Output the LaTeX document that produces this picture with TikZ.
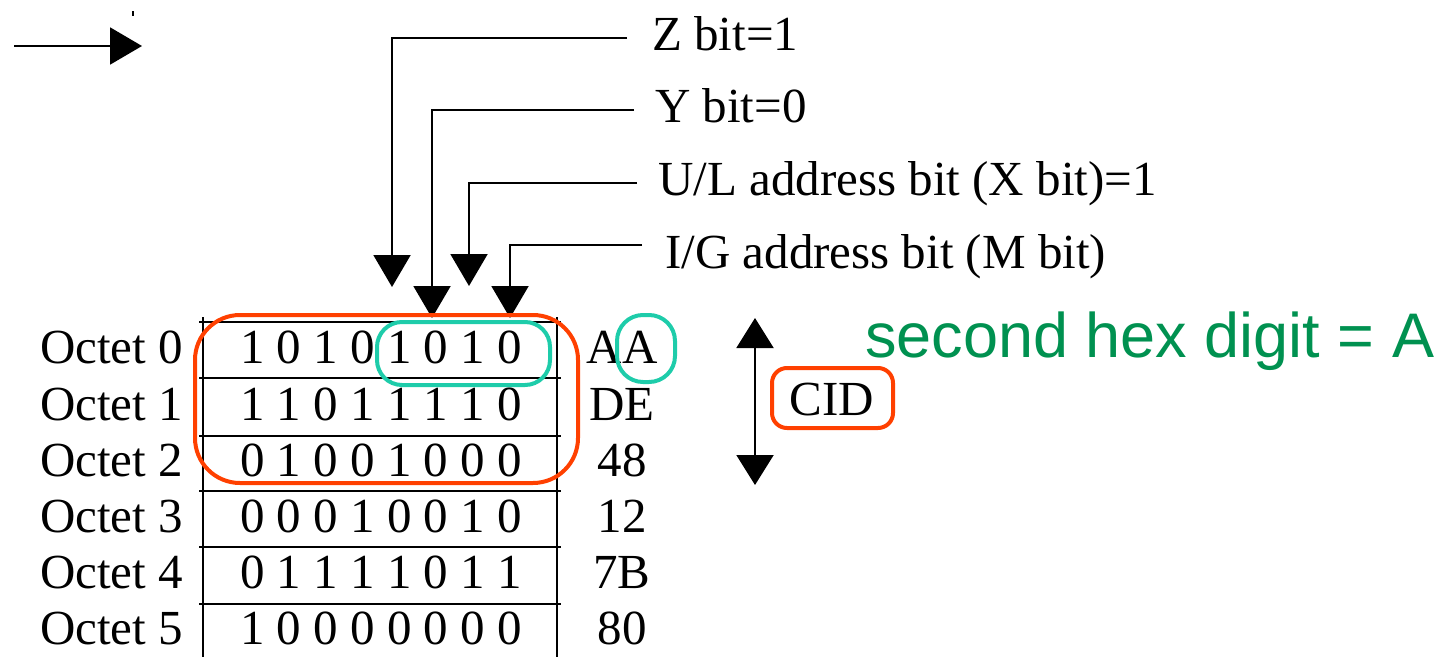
\documentclass[tikz,border=0pt]{standalone}
\usepackage{fontspec}
\setmainfont{Liberation Serif}
\newfontfamily\greenfont{Liberation Sans}
\usetikzlibrary{arrows.meta}
\definecolor{hlred}{RGB}{255,64,0}
\definecolor{hlteal}{RGB}{30,204,170}
\definecolor{hlgreen}{RGB}{0,145,80}
\begin{document}
\begin{tikzpicture}[x=1pt,y=-1pt,
  txt/.style={inner sep=0pt,font=\fontsize{49}{55}\selectfont},
  lbl/.style={txt,anchor=base west},
  hexv/.style={txt,anchor=base},
  wire/.style={line width=2pt},
  tri/.style={-{Triangle[width=37pt,length=32pt]}},
  tabline/.style={line width=1.8pt},
  redbox/.style={draw=hlred,line width=4pt},
  tealbox/.style={draw=hlteal,line width=4pt}]
\useasboundingbox (0,0) rectangle (1439,656);
% top-left arrow
\coordinate (ls) at (14,46);
\coordinate (le) at (142,46);
\draw[wire,tri] (ls) -- (le);
\draw[line width=1.5pt] (133,11) -- (133,16);
% table
\foreach \y in {322,378,436,491,547,604}{
  \draw[tabline] (199,\y) -- (561,\y);
}
\draw[tabline] (203,317) -- (203,660);
\draw[tabline] (557,317) -- (557,660);
% octet labels, bits, hex
\foreach \i/\b/\bits/\hx in {0/363/{1 0 1 0 1 0 1 0}/AA,1/420/{1 1 0 1 1 1 1 0}/DE,2/476/{0 1 0 0 1 0 0 0}/48,3/532/{0 0 0 1 0 0 1 0}/12,4/588/{0 1 1 1 1 0 1 1}/7B,5/644/{1 0 0 0 0 0 0 0}/80}{
  \node[lbl] (oct\i) at (40,\b) {Octet \i};
  \node[lbl] (bits\i) at (240,\b) {\bits};
  \node[hexv] (hex\i) at (622,\b) {\hx};
}
% bit labels
\node[lbl] (zl) at (652,50) {Z bit=1};
\node[lbl] (yl) at (655,122) {Y bit=0};
\node[lbl] (ul) at (658,195) {U/L address bit (X bit)=1};
\node[lbl] (ml) at (665,268) {I/G address bit (M bit)};
\coordinate (zs) at (627,38);  \coordinate (zc) at (392,38);  \coordinate (zt) at (392,287);
\coordinate (ys) at (634,110); \coordinate (yc) at (432,110); \coordinate (yt) at (432,318);
\coordinate (us) at (637,183); \coordinate (uc) at (469,183); \coordinate (ut) at (469,286);
\coordinate (ms) at (642,245); \coordinate (mc) at (510,245); \coordinate (mt) at (510,318);
\draw[wire,tri] (zs) -- (zc) -- (zt);
\draw[wire,tri] (ys) -- (yc) -- (yt);
\draw[wire,tri] (us) -- (uc) -- (ut);
\draw[wire,tri] (ms) -- (mc) -- (mt);
% CID arrow
\coordinate (ca) at (755,318);
\coordinate (cb) at (755,485);
\draw[wire,{Triangle[width=37pt,length=30pt]}-{Triangle[width=37pt,length=30pt]}] (ca) -- (cb);
\node[txt] (cid) at (832,400) {CID};
% highlights
\draw[redbox,rounded corners=45pt] (195,315) rectangle (578,483);
\draw[tealbox,rounded corners=25pt] (377,322) rectangle (550,385);
\draw[tealbox,rounded corners=26pt] (617,315) rectangle (675,382);
\draw[redbox,rounded corners=15pt] (772,368) rectangle (893,428);
\node[inner sep=0pt,anchor=base west,text=hlgreen,font=\greenfont\fontsize{63}{70}\selectfont] (note) at (865,357) {second hex digit = A};
\end{tikzpicture}
\end{document}
